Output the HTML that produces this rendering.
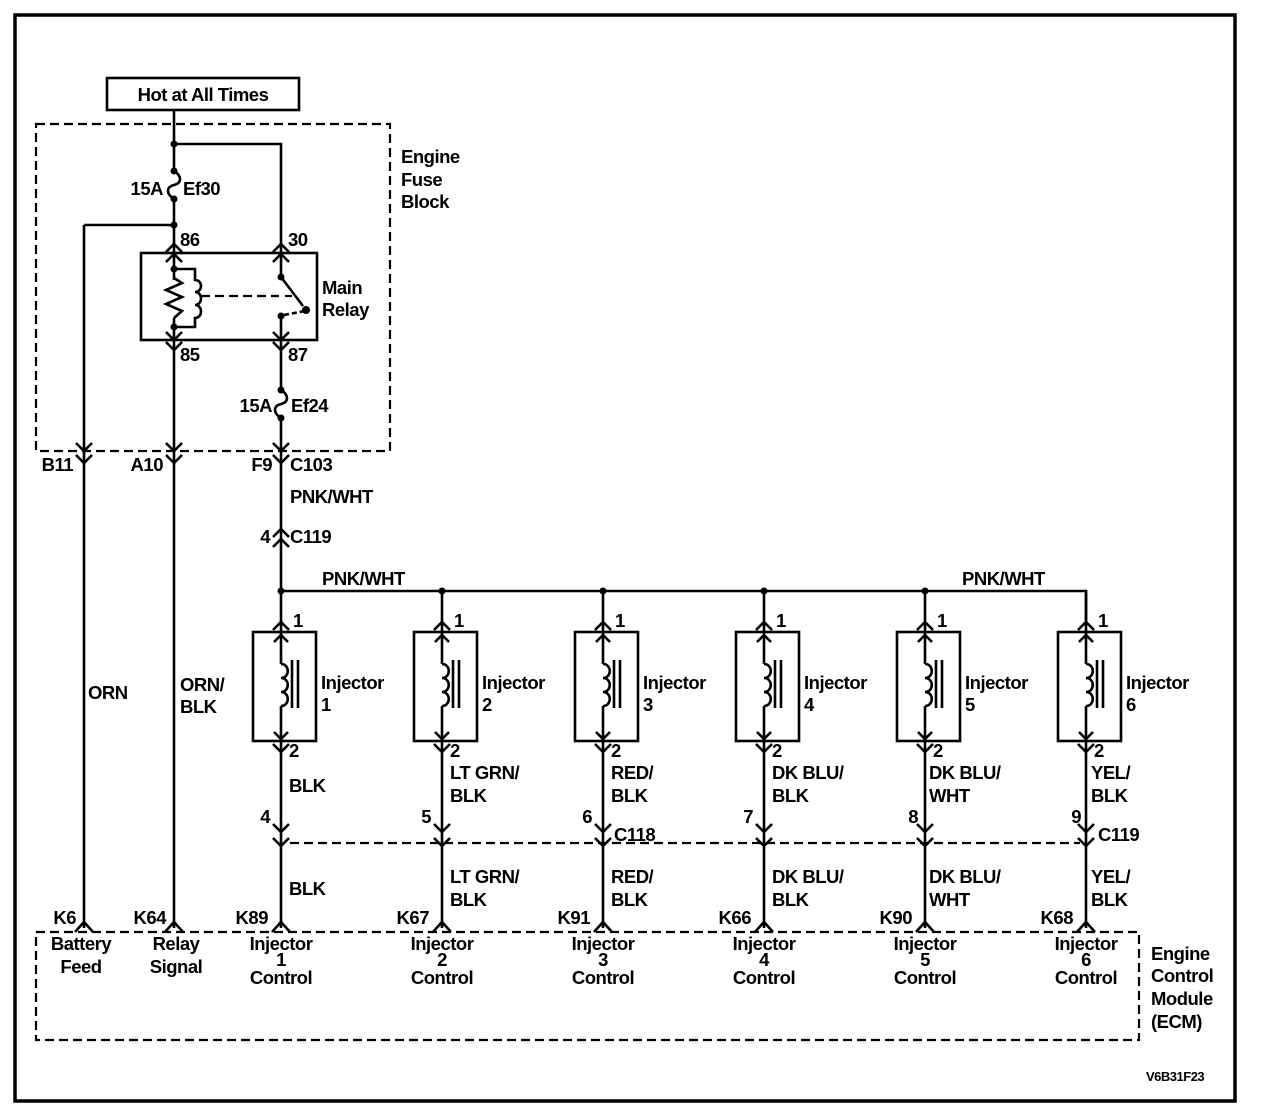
<!DOCTYPE html>
<html><head><meta charset="utf-8"><style>
html,body{margin:0;padding:0;background:#fff;}
svg{display:block;}
text{font-family:"Liberation Sans",Arial,sans-serif;font-weight:bold;font-size:18.5px;fill:#000;letter-spacing:-0.5px;}
.s{fill:none;stroke:#000;stroke-width:2.6;}
.d{fill:none;stroke:#000;stroke-width:2.2;stroke-dasharray:9,5;}
.dot{fill:#000;}
</style></head><body>
<svg width="1264" height="1118" viewBox="0 0 1264 1118" xmlns="http://www.w3.org/2000/svg">
<rect x="15" y="15" width="1220" height="1086" fill="none" stroke="#000" stroke-width="3.5"/>
<rect x="107" y="78" width="192" height="32" class="s"/>
<text x="203" y="101" text-anchor="middle">Hot at All Times</text>
<rect x="36" y="124" width="354" height="327" class="d"/>
<text x="401" y="163">Engine</text><text x="401" y="186">Fuse</text><text x="401" y="208">Block</text>

<path class="s" d="M174 110V171M174 199V928M174 144H281V340M84 225H174M84 225V451"/>
<circle class="dot" cx="174" cy="144" r="3.5"/><circle class="dot" cx="174" cy="225" r="3.5"/>
<circle class="dot" cx="174" cy="171" r="3.5"/><circle class="dot" cx="174" cy="199" r="3.5"/>
<path class="s" d="M174 171C182 176 182 183 174 185C166 187 166 194 174 199"/>
<text x="163" y="195" text-anchor="end">15A</text><text x="183" y="195">Ef30</text>
<rect x="141" y="253" width="176" height="87" class="s"/>
<text x="180" y="246">86</text><text x="288" y="246">30</text>
<text x="322" y="294">Main</text><text x="322" y="316">Relay</text>
<text x="180" y="361">85</text><text x="288" y="361">87</text>
<path class="s" d="M166 252L174 244L182 252M166 262L174 254L182 262M273 252L281 244L289 252M273 262L281 254L289 262"/>
<path class="s" d="M166 332L174 340L182 332M166 342L174 350L182 342M273 332L281 340L289 332M273 342L281 350L289 342"/>
<circle class="dot" cx="174" cy="269" r="3.5"/><circle class="dot" cx="174" cy="327" r="3.5"/>
<path fill="#fff" stroke="#fff" stroke-width="4" d="M174 280V318"/>
<path class="s" d="M174 278L182 283L166 290L182 297L166 304L182 311L174 318"/>
<path class="s" d="M174 269H195V280C203 280 203 292 195 292C203 292 203 305 195 305C203 305 203 318 195 318V327H174"/>
<path class="d" d="M201 296H292"/>
<path fill="#fff" stroke="none" d="M279 279H284V314H279Z"/>
<circle class="dot" cx="281" cy="277" r="3.5"/><circle class="dot" cx="281" cy="316" r="3.5"/>
<path class="s" d="M281 277L303 306"/><circle class="dot" cx="306" cy="310" r="4"/>
<path class="s" d="M284 315L305 311" stroke-dasharray="5,3"/>
<path class="s" d="M281 340V390M281 418V591"/>
<circle class="dot" cx="281" cy="390" r="3.5"/><circle class="dot" cx="281" cy="418" r="3.5"/>
<path class="s" d="M281 390C289 395 289 402 281 404C273 406 273 413 281 418"/>
<text x="272" y="412" text-anchor="end">15A</text><text x="291" y="412">Ef24</text>
<path class="s" d="M76 443L84 451L92 443M76 455L84 463L92 455M84 451V928M166 443L174 451L182 443M166 455L174 463L182 455M273 443L281 451L289 443M273 455L281 463L289 455"/>
<text x="73" y="471" text-anchor="end">B11</text><text x="163" y="471" text-anchor="end">A10</text>
<text x="272" y="471" text-anchor="end">F9</text><text x="290" y="471">C103</text>
<text x="290" y="503">PNK/WHT</text>
<path class="s" d="M273 537L281 529L289 537M273 547L281 539L289 547"/>
<text x="270" y="543" text-anchor="end">4</text><text x="290" y="543">C119</text>
<text x="88" y="699">ORN</text>
<text x="180" y="691">ORN/</text><text x="180" y="713">BLK</text>
<path class="s" d="M281 591H1086V620"/>
<circle class="dot" cx="281" cy="591" r="3.5"/><circle class="dot" cx="442" cy="591" r="3.5"/><circle class="dot" cx="603" cy="591" r="3.5"/><circle class="dot" cx="764" cy="591" r="3.5"/><circle class="dot" cx="925" cy="591" r="3.5"/>
<text x="322" y="585">PNK/WHT</text><text x="962" y="585">PNK/WHT</text>
<path class="d" d="M290 843H1080"/>
<rect x="36" y="932" width="1103" height="108" class="d"/>
<defs>
<g id="inj">
<path class="s" d="M281 591V664M281 706V928"/>
<path class="s" d="M273 630L281 622L289 630"/>
<rect x="253" y="632" width="63" height="109" fill="none" stroke="#000" stroke-width="2.6"/>
<path class="s" d="M274 642L281 635L288 642M274 732L281 739L288 732"/>
<path class="s" d="M273 744L281 752L289 744"/>
<path class="s" d="M281 664C290 664 290 678 281 678C290 678 290 692 281 692C290 692 290 706 281 706"/>
<path class="s" d="M292 660V708M298 660V708"/>
<path class="s" d="M273 824L281 832L289 824M273 838L281 846L289 838"/>
<path class="s" d="M272 932L281 922L290 932"/>
</g>
</defs>
<use href="#inj"/>
<use href="#inj" x="161"/>
<use href="#inj" x="322"/>
<use href="#inj" x="483"/>
<use href="#inj" x="644"/>
<use href="#inj" x="805"/>
<g>
<text x="293" y="627">1</text><text x="321" y="689">Injector</text><text x="321" y="711">1</text><text x="289" y="757">2</text>
<text x="289" y="792">BLK</text><text x="270" y="823" text-anchor="end">4</text><text x="289" y="895">BLK</text>
<text x="268" y="924" text-anchor="end">K89</text>

<text x="454" y="627">1</text><text x="482" y="689">Injector</text><text x="482" y="711">2</text><text x="450" y="757">2</text>
<text x="450" y="779">LT GRN/</text><text x="450" y="802">BLK</text><text x="431" y="823" text-anchor="end">5</text>
<text x="450" y="883">LT GRN/</text><text x="450" y="906">BLK</text><text x="429" y="924" text-anchor="end">K67</text>

<text x="615" y="627">1</text><text x="643" y="689">Injector</text><text x="643" y="711">3</text><text x="611" y="757">2</text>
<text x="611" y="779">RED/</text><text x="611" y="802">BLK</text><text x="592" y="823" text-anchor="end">6</text><text x="614" y="841">C118</text>
<text x="611" y="883">RED/</text><text x="611" y="906">BLK</text><text x="590" y="924" text-anchor="end">K91</text>

<text x="776" y="627">1</text><text x="804" y="689">Injector</text><text x="804" y="711">4</text><text x="772" y="757">2</text>
<text x="772" y="779">DK BLU/</text><text x="772" y="802">BLK</text><text x="753" y="823" text-anchor="end">7</text>
<text x="772" y="883">DK BLU/</text><text x="772" y="906">BLK</text><text x="751" y="924" text-anchor="end">K66</text>

<text x="937" y="627">1</text><text x="965" y="689">Injector</text><text x="965" y="711">5</text><text x="933" y="757">2</text>
<text x="929" y="779">DK BLU/</text><text x="929" y="802">WHT</text><text x="918" y="823" text-anchor="end">8</text>
<text x="929" y="883">DK BLU/</text><text x="929" y="906">WHT</text><text x="912" y="924" text-anchor="end">K90</text>

<text x="1098" y="627">1</text><text x="1126" y="689">Injector</text><text x="1126" y="711">6</text><text x="1094" y="757">2</text>
<text x="1091" y="779">YEL/</text><text x="1091" y="802">BLK</text><text x="1081" y="823" text-anchor="end">9</text><text x="1098" y="841">C119</text>
<text x="1091" y="883">YEL/</text><text x="1091" y="906">BLK</text><text x="1073" y="924" text-anchor="end">K68</text>
</g>
<path class="s" d="M75 932L84 922L93 932M165 932L174 922L183 932"/>
<text x="76" y="924" text-anchor="end">K6</text><text x="166" y="924" text-anchor="end">K64</text>
<text x="81" y="950" text-anchor="middle">Battery</text><text x="81" y="973" text-anchor="middle">Feed</text>
<text x="176" y="950" text-anchor="middle">Relay</text><text x="176" y="973" text-anchor="middle">Signal</text>
<g text-anchor="middle">
<text x="281" y="950">Injector</text><text x="281" y="966">1</text><text x="281" y="984">Control</text>
<text x="442" y="950">Injector</text><text x="442" y="966">2</text><text x="442" y="984">Control</text>
<text x="603" y="950">Injector</text><text x="603" y="966">3</text><text x="603" y="984">Control</text>
<text x="764" y="950">Injector</text><text x="764" y="966">4</text><text x="764" y="984">Control</text>
<text x="925" y="950">Injector</text><text x="925" y="966">5</text><text x="925" y="984">Control</text>
<text x="1086" y="950">Injector</text><text x="1086" y="966">6</text><text x="1086" y="984">Control</text>
</g>
<text x="1151" y="960">Engine</text><text x="1151" y="982">Control</text><text x="1151" y="1005">Module</text><text x="1151" y="1028">(ECM)</text>
<text x="1146" y="1081" style="font-size:13px">V6B31F23</text>
</svg>
</body></html>
